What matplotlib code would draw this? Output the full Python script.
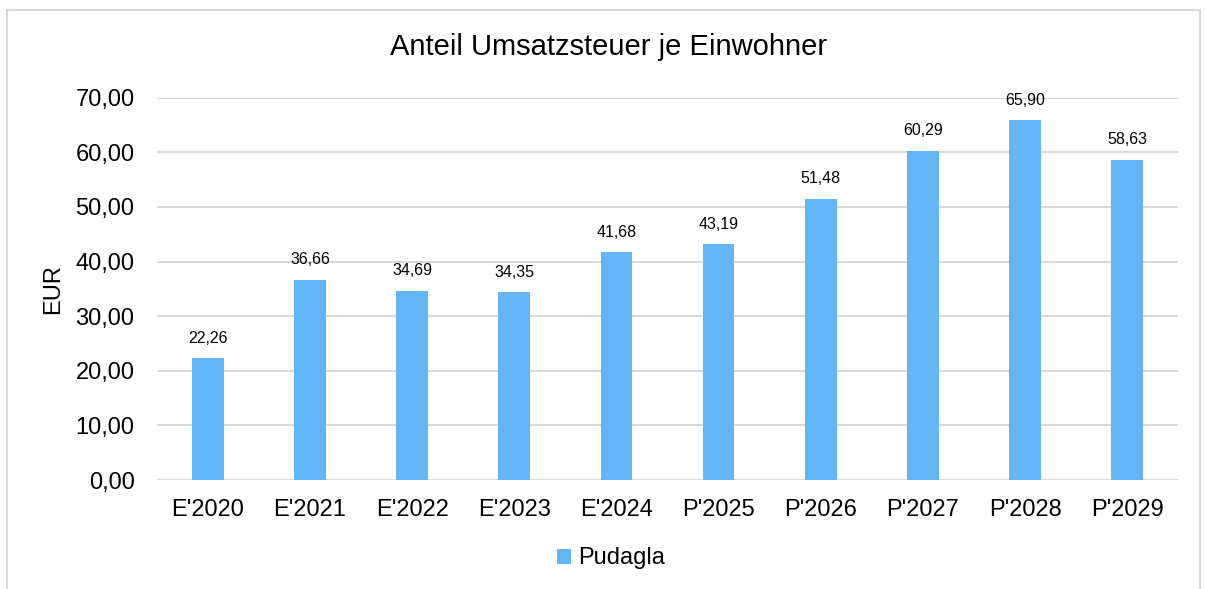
import matplotlib.pyplot as plt
from matplotlib.patches import Rectangle

plt.rcParams['font.family'] = ['Liberation Sans', 'DejaVu Sans']

jahre = ["E'2020", "E'2021", "E'2022", "E'2023", "E'2024",
         "P'2025", "P'2026", "P'2027", "P'2028", "P'2029"]
werte = [22.26, 36.66, 34.69, 34.35, 41.68, 43.19, 51.48, 60.29, 65.90, 58.63]
y_ticks = [0, 10, 20, 30, 40, 50, 60, 70]

balken = "#64B5F6"
grau = "#D9D9D9"

fig = plt.figure(figsize=(12.06, 5.89), dpi=100)
ax = fig.add_axes([0.130, 0.185, 0.847, 0.649])

# Rahmen ums Diagramm
fig.patches.append(Rectangle((7 / 1206, -0.05), 1193 / 1206, 1.05 - 10 / 589,
                             transform=fig.transFigure, fill=False,
                             edgecolor=grau, linewidth=1.5))

x = range(len(jahre))
ax.bar(x, werte, width=0.31, color=balken, label="Pudagla", zorder=3)

for xi, v in zip(x, werte):
    ax.annotate(f"{v:.2f}".replace(".", ","), (xi, v), xytext=(0, 9),
                textcoords="offset points", ha="center", va="bottom",
                fontsize=11.5)

ax.set_xlim(-0.5, len(jahre) - 0.5)
ax.set_ylim(0, 70)
ax.set_yticks(y_ticks)
ax.set_yticklabels([f"{t:.2f}".replace(".", ",") for t in y_ticks], fontsize=17)
ax.set_xticks(list(x))
ax.set_xticklabels(jahre, fontsize=17)
ax.tick_params(length=0, pad=14)
ax.tick_params(axis="y", pad=16)
ax.grid(axis="y", color=grau, linewidth=1.5, zorder=0)
for s in ax.spines.values():
    s.set_visible(False)

ax.set_ylabel("EUR", fontsize=17, labelpad=8)
fig.text(0.505, 0.92, "Anteil Umsatzsteuer je Einwohner", ha="center",
         va="center", fontsize=21)

ax.legend(loc="center", bbox_to_anchor=(0.445, -0.205), frameon=False,
          fontsize=17, handlelength=0.6, handleheight=0.6, handletextpad=0.3)

fig.savefig("out.png", dpi=100, facecolor="white")
